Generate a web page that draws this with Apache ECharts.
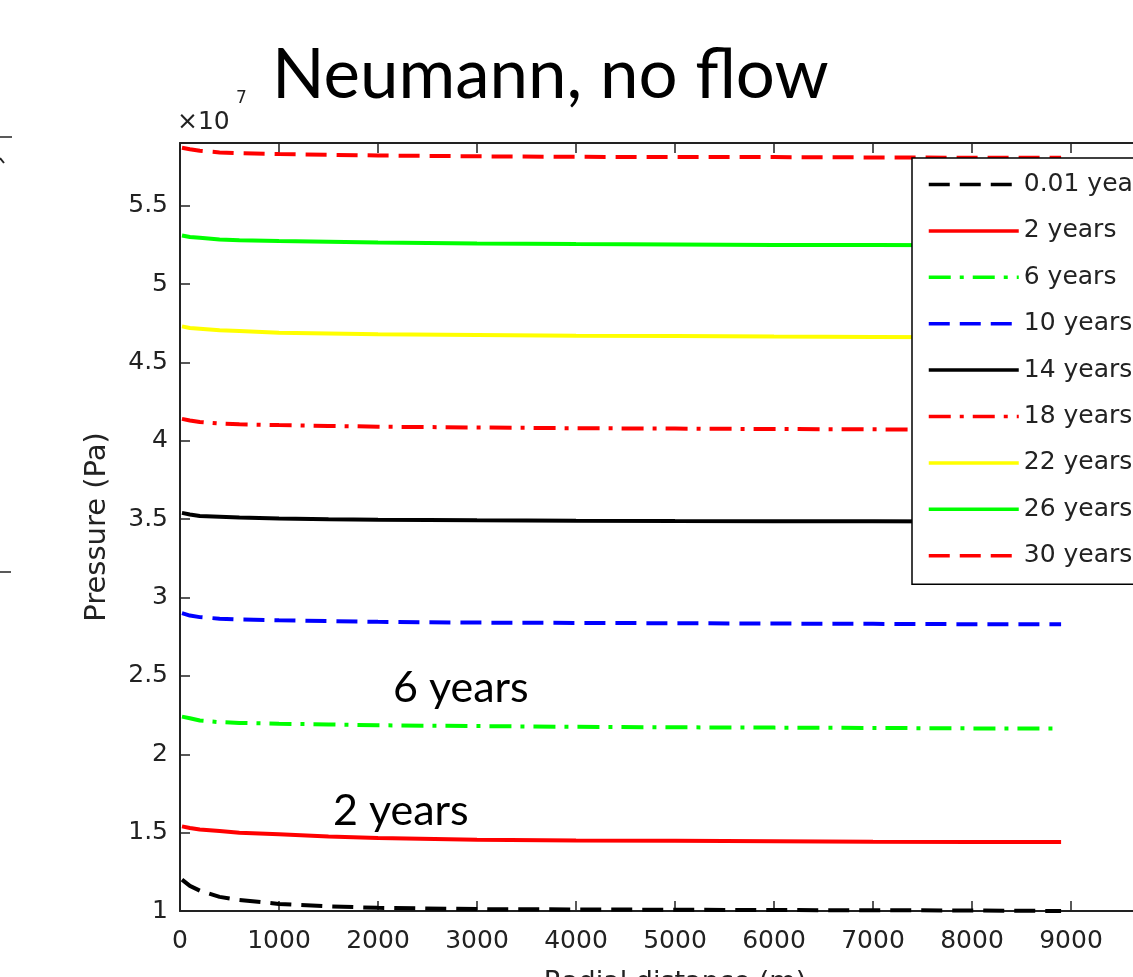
<!DOCTYPE html>
<html>
<head>
<meta charset="utf-8">
<script src="https://cdn.jsdelivr.net/npm/echarts@6/dist/echarts.min.js"></script>
<style>
  html, body { margin: 0; padding: 0; background: #fff; overflow: hidden; }
  #chart { width: 1133px; height: 977px; }
</style>
</head>
<body>
<div id="chart"></div>
<script>
// radial distance (m)
const distance = [20, 100, 200, 400, 600, 1000, 1500, 2000, 3000, 4000, 5000, 6000, 7000, 8000, 8900];

// pressure, x 10^7 Pa
const p001 = [1.20, 1.16, 1.13, 1.09, 1.07, 1.045, 1.03, 1.02, 1.012, 1.01, 1.008, 1.006, 1.005, 1.003, 1.0];
const p2 = [1.54, 1.53, 1.52, 1.51, 1.50, 1.49, 1.475, 1.465, 1.455, 1.45, 1.448, 1.445, 1.442, 1.44, 1.44];
const p6 = [2.24, 2.23, 2.215, 2.205, 2.20, 2.195, 2.19, 2.185, 2.18, 2.175, 2.172, 2.17, 2.168, 2.165, 2.165];
const p10 = [2.90, 2.885, 2.875, 2.865, 2.86, 2.855, 2.85, 2.845, 2.84, 2.838, 2.836, 2.834, 2.832, 2.83, 2.83];
const p14 = [3.54, 3.53, 3.52, 3.515, 3.51, 3.505, 3.50, 3.497, 3.493, 3.49, 3.488, 3.487, 3.486, 3.485, 3.485];
const p18 = [4.14, 4.13, 4.12, 4.11, 4.105, 4.10, 4.095, 4.09, 4.085, 4.08, 4.078, 4.075, 4.073, 4.07, 4.07];
const p22 = [4.73, 4.72, 4.715, 4.705, 4.70, 4.69, 4.685, 4.68, 4.675, 4.67, 4.668, 4.665, 4.663, 4.66, 4.66];
const p26 = [5.31, 5.30, 5.295, 5.285, 5.28, 5.275, 5.27, 5.265, 5.258, 5.255, 5.253, 5.25, 5.25, 5.248, 5.248];
const p30 = [5.87, 5.86, 5.85, 5.84, 5.835, 5.83, 5.825, 5.82, 5.815, 5.812, 5.81, 5.81, 5.808, 5.806, 5.806];

const labels = ['0.01 years', '2 years', '6 years', '10 years', '14 years', '18 years', '22 years', '26 years', '30 years'];
const values = [p001, p2, p6, p10, p14, p18, p22, p26, p30];
const colors = ['#000000', '#ff0000', '#00ff00', '#0000ff', '#000000', '#ff0000', '#ffff00', '#00ff00', '#ff0000'];
const dashed = [21, 10];
const dashDot = [22, 9, 4, 9];
const styles = [dashed, 'solid', dashDot, dashed, 'solid', dashDot, 'solid', 'solid', dashed];

const axisFont = { fontFamily: 'DejaVu Sans', fontSize: 25, color: '#222' };

const chart = echarts.init(document.getElementById('chart'));

const series = labels.map((name, i) => ({
  name: name,
  type: 'line',
  symbol: 'none',
  color: colors[i],
  lineStyle: { color: colors[i], width: 4, type: styles[i] },
  data: distance.map((d, j) => [d, values[i][j]])
}));

chart.setOption({
  animation: false,
  backgroundColor: '#fff',
  grid: { left: 180, top: 143, width: 990, height: 768, outerBoundsMode: 'none', containLabel: false },
  legend: {
    data: labels,
    orient: 'vertical',
    left: 912,
    top: 158,
    padding: [14, 10, 16, 15],
    itemWidth: 90,
    itemHeight: 20,
    itemGap: 21.4,
    backgroundColor: '#fff',
    borderColor: '#000',
    borderWidth: 1.5,
    borderRadius: 0,
    itemStyle: { opacity: 0 },
    lineStyle: { width: 3.5 },
    textStyle: { fontFamily: 'DejaVu Sans', fontSize: 25, color: '#222' }
  },
  xAxis: [{
    type: 'value',
    min: 0,
    max: 10000,
    interval: 1000,
    name: 'Radial distance (m)',
    nameLocation: 'middle',
    nameGap: 58,
    nameTextStyle: { fontFamily: 'DejaVu Sans', fontSize: 27, color: '#222', verticalAlign: 'top' },
    axisLine: { lineStyle: { color: '#222', width: 2 } },
    axisTick: { inside: true, length: 10, lineStyle: { color: '#222', width: 1.5 } },
    axisLabel: Object.assign({ margin: 18, formatter: v => String(v) }, axisFont),
    splitLine: { show: false }
  }, {
    type: 'value',
    position: 'top',
    min: 0,
    max: 10000,
    interval: 1000,
    axisLine: { show: true, lineStyle: { color: '#222', width: 2 } },
    axisTick: { inside: true, length: 10, lineStyle: { color: '#222', width: 1.5 } },
    axisLabel: { show: false },
    splitLine: { show: false }
  }],
  yAxis: {
    type: 'value',
    min: 1,
    max: 5.9,
    interval: 0.5,
    name: 'Pressure (Pa)',
    nameLocation: 'middle',
    nameGap: 68,
    nameTextStyle: { fontFamily: 'DejaVu Sans', fontSize: 29, color: '#222' },
    axisLine: { show: true, lineStyle: { color: '#222', width: 2 } },
    axisTick: { show: true, inside: true, length: 10, lineStyle: { color: '#222', width: 1.5 } },
    axisLabel: Object.assign({ margin: 12, showMaxLabel: false }, axisFont),
    splitLine: { show: false }
  },
  graphic: [
    { type: 'text', left: 177, top: 110, style: { text: '\u00d710', font: '25px "DejaVu Sans"', fill: '#222' } },
    { type: 'text', left: 236, top: 90, style: { text: '7', font: '17px "DejaVu Sans"', fill: '#222' } },
    { type: 'text', left: 272, top: 41, style: { text: 'Neumann, no flow', font: '69px Lato', fill: '#000' } },
    { type: 'text', left: 393, top: 667, style: { text: '6 years', font: '43px Lato', fill: '#000' } },
    { type: 'text', left: 333, top: 790, style: { text: '2 years', font: '43px Lato', fill: '#000' } },
    { type: 'line', shape: { x1: 0, y1: 137, x2: 12, y2: 137 }, style: { stroke: '#222', lineWidth: 1.5 } },
    { type: 'line', shape: { x1: 0, y1: 158, x2: 4, y2: 163 }, style: { stroke: '#222', lineWidth: 2 } },
    { type: 'line', shape: { x1: 0, y1: 572, x2: 11, y2: 572 }, style: { stroke: '#222', lineWidth: 1.5 } }
  ],
  series: series
});
</script>
</body>
</html>
